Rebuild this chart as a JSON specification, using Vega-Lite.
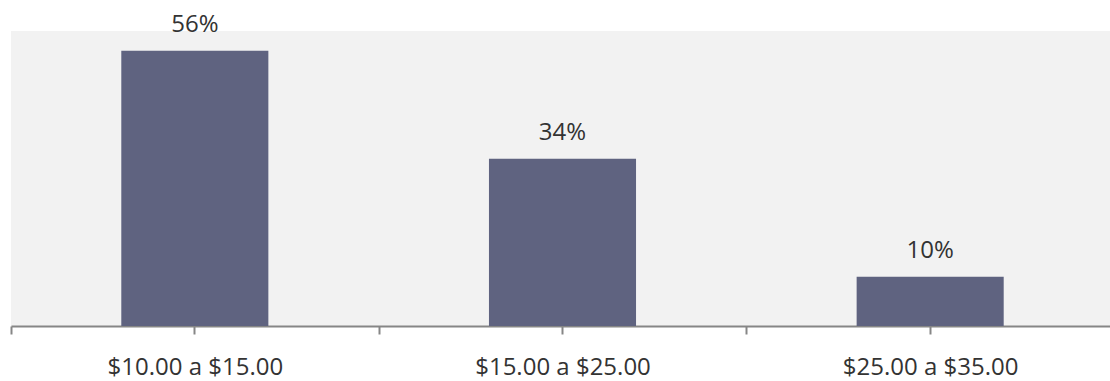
{
  "$schema": "https://vega.github.io/schema/vega-lite/v6.json",
  "autosize": "none",
  "width": 1099,
  "height": 295,
  "padding": {"left": 11, "top": 31, "right": 0, "bottom": 55},
  "background": "#ffffff",
  "config": {
    "view": {"fill": "#f2f2f2", "stroke": null},
    "font": "Open Sans"
  },
  "data": {
    "values": [
      {"rango": "$10.00 a $15.00", "pct": 56, "label": "56%"},
      {"rango": "$15.00 a $25.00", "pct": 34, "label": "34%"},
      {"rango": "$25.00 a $35.00", "pct": 10, "label": "10%"}
    ]
  },
  "encoding": {
    "x": {
      "field": "rango",
      "type": "nominal",
      "sort": null,
      "scale": {"range": [0, 1103], "paddingInner": 0, "paddingOuter": 0}
    },
    "y": {
      "field": "pct",
      "type": "quantitative",
      "scale": {"domain": [0, 60], "nice": false},
      "axis": null
    }
  },
  "layer": [
    {
      "mark": {"type": "bar", "color": "#5f6380", "width": {"band": 0.4}},
      "encoding": {
        "x": {
          "field": "rango",
          "type": "nominal",
          "sort": null,
          "axis": {
            "title": null,
            "labelAngle": 0,
            "tickBand": "extent",
            "tickSize": 8,
            "tickWidth": 2,
            "tickColor": "#868686",
            "domainColor": "#868686",
            "domainWidth": 2,
            "labelFont": "Open Sans",
            "labelFontSize": 24,
            "labelColor": "#333333",
            "labelPadding": 21
          }
        }
      }
    },
    {
      "mark": {"type": "text", "baseline": "alphabetic", "dy": -19, "fontSize": 24, "color": "#333333", "font": "Open Sans"},
      "encoding": {
        "text": {"field": "label"},
        "x": {
          "field": "rango",
          "type": "nominal",
          "sort": null,
          "axis": {
            "title": null,
            "labels": false,
            "domain": false,
            "tickSize": 8,
            "tickWidth": 2,
            "tickColor": "#868686",
            "orient": "bottom"
          }
        }
      }
    }
  ],
  "resolve": {"axis": {"x": "independent"}}
}
